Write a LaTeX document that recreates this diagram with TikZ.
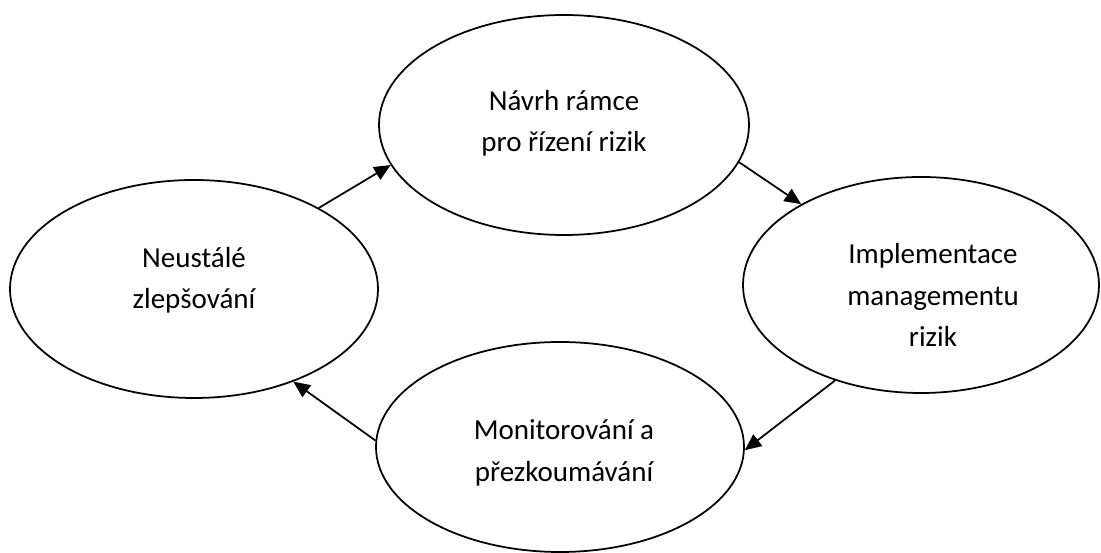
\documentclass[tikz,border=0pt]{standalone}
\usepackage{fontspec}
\setmainfont{Carlito}
\usetikzlibrary{shapes.geometric, arrows.meta}

\tikzset{
    oval/.style={ellipse, draw, line width=1pt, fill=white, inner sep=0pt},
    txt/.style={align=center, inner sep=0pt, font=\fontsize{16.5}{23.5}\selectfont},
    flow/.style={-{Triangle[length=3.3mm, width=2.9mm]}, line width=1pt}
}

\begin{document}
\begin{tikzpicture}
        \useasboundingbox (0,0) rectangle (22.02,11.06);

        % Draw nodes
        \node[oval, minimum width=7.36cm, minimum height=4.36cm] (zlepsovani) at (3.88,5.28) {};
        \node[oval, minimum width=7.4cm, minimum height=4.4cm] (navrh) at (11.28,8.56) {};
        \node[oval, minimum width=7.12cm, minimum height=4.32cm] (implementace) at (18.42,5.36) {};
        \node[oval, minimum width=7.36cm, minimum height=4.2cm] (monitorovani) at (11.2,2.12) {};

        % Labels
        \node[txt] (zlepsovani-txt) at ([yshift=0.17cm]zlepsovani.center) {Neustálé\\zlepšování};
        \node[txt] (navrh-txt) at ([yshift=0.03cm]navrh.center) {Návrh rámce\\pro řízení rizik};
        \node[txt] (implementace-txt) at ([xshift=0.24cm, yshift=-0.2cm]implementace.center) {Implementace\\managementu\\rizik};
        \node[txt] (monitorovani-txt) at ([xshift=0.08cm, yshift=-0.12cm]monitorovani.center) {Monitorování a\\přezkoumávání};

        % Draw connections
        \draw[flow] (zlepsovani.33) -- (navrh.193);
        \draw[flow] (navrh.-12) -- (implementace.146);
        \draw[flow] (implementace.228) -- (monitorovani.-1);
        \draw[flow] (monitorovani.178) -- (zlepsovani.-43);
    \end{tikzpicture}
\end{document}
